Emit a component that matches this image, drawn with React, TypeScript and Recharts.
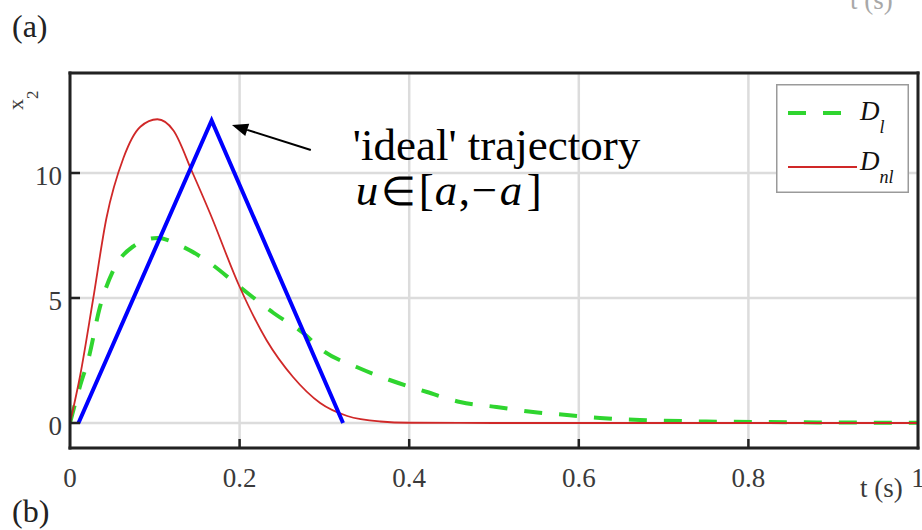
import React from 'react';
import { LineChart, Line, XAxis, YAxis, CartesianGrid, ReferenceLine, Legend } from 'recharts';

const SERIF = 'Liberation Serif';
const INK = '#3a3a3a';
const FRAME = '#222222';

// axis ticks
const xTicks = [0, 0.2, 0.4, 0.6, 0.8, 1];
const yTicks = [0, 5, 10];

// linear design D_l : time (s) and x2
const tLin = [0, 0.012, 0.022, 0.035, 0.051, 0.074, 0.103, 0.133, 0.165, 0.2, 0.24, 0.275, 0.298, 0.338, 0.377, 0.421, 0.46, 0.503, 0.546, 0.586, 0.625, 0.672, 0.75, 0.85, 1.0];
const xLin = [0, 1.5, 2.6, 4.6, 6.1, 7.05, 7.4, 7.05, 6.4, 5.45, 4.4, 3.6, 2.9, 2.24, 1.72, 1.24, 0.84, 0.64, 0.44, 0.32, 0.2, 0.12, 0.06, 0.03, 0.01];

// nonlinear design D_nl : time (s) and x2
const tNonlin = [0, 0.012, 0.027, 0.043, 0.063, 0.083, 0.103, 0.122, 0.144, 0.165, 0.2, 0.232, 0.263, 0.295, 0.327, 0.366, 0.4, 0.5, 1.0];
const xNonlin = [0, 1.9, 4.9, 8.2, 10.6, 11.85, 12.15, 11.7, 10.05, 8.4, 5.45, 3.3, 1.84, 0.8, 0.28, 0.06, 0.01, 0, 0];

// 'ideal' bang-bang trajectory, u in [a, -a]
const tIdeal = [0.01, 0.167, 0.322];
const xIdeal = [0, 12.1, 0];

// annotation arrow (tail -> tip) in data units
const arrowTail = { x: 0.284, y: 10.92 };
const arrowTip = { x: 0.191, y: 11.92 };

const toPoints = (t: number[], v: number[]) => t.map((tt, i) => ({ t: tt, v: v[i] }));
const linData = toPoints(tLin, xLin);
const nonlinData = toPoints(tNonlin, xNonlin);
const idealData = toPoints(tIdeal, xIdeal);

const serifText = { fontFamily: SERIF };

const BottomTick = ({ x, y, payload }: any) => {
  const v = payload.value;
  return (
    <g>
      {v > 0 && v < 1 && <line x1={x} x2={x} y1={y} y2={y - 9} stroke={FRAME} strokeWidth={2.5} />}
      <text x={x} y={y + 39} textAnchor="middle" style={serifText} fontSize={27} fill={INK}>
        {String(v)}
      </text>
    </g>
  );
};

// top frame ticks, plus the axis labels of panel (a) above, cut by the page edge
const TopTick = ({ x, y, payload }: any) => {
  const v = payload.value;
  return (
    <g>
      {v > 0 && v < 1 && <line x1={x} x2={x} y1={y} y2={y + 9} stroke={FRAME} strokeWidth={2.5} />}
      {v < 1 && (
        <text x={x} y={5} textAnchor="middle" style={serifText} fontSize={27} fill="#a8a8a8">
          {String(v)}
        </text>
      )}
    </g>
  );
};

const LeftTick = ({ x, y, payload }: any) => (
  <g>
    <line x1={x} x2={x + 10} y1={y} y2={y} stroke={FRAME} strokeWidth={2.5} />
    <text x={x - 8} y={y + 12} textAnchor="end" style={serifText} fontSize={27} fill={INK}>
      {String(payload.value)}
    </text>
  </g>
);

const RightTick = ({ x, y }: any) => (
  <line x1={x} x2={x - 10} y1={y} y2={y} stroke={FRAME} strokeWidth={2.5} />
);

const ArrowNote = (props: any) => {
  const { x1, y1, x2, y2 } = props;
  const dx = x2 - x1;
  const dy = y2 - y1;
  const len = Math.hypot(dx, dy) || 1;
  const ux = dx / len;
  const uy = dy / len;
  const headLen = 16;
  const headHalf = 6.5;
  const bx = x2 - ux * headLen;
  const by = y2 - uy * headLen;
  const nx = -uy;
  const ny = ux;
  return (
    <g>
      <line x1={x1} y1={y1} x2={bx} y2={by} stroke="#000" strokeWidth={2} />
      <polygon
        points={`${x2},${y2} ${bx + nx * headHalf},${by + ny * headHalf} ${bx - nx * headHalf},${by - ny * headHalf}`}
        fill="#000"
      />
      <text x={x1 + 42} y={y1 + 10} style={serifText} fontSize={45} fill="#000">
        {"'ideal' trajectory"}
      </text>
      <text y={y1 + 55} style={serifText} fontSize={45} fill="#000">
        <tspan x={x1 + 45} fontStyle="italic">u</tspan>
        <tspan x={x1 + 70} fontSize={40}>∈</tspan>
        <tspan x={x1 + 108}>[</tspan>
        <tspan x={x1 + 124} fontStyle="italic">a</tspan>
        <tspan x={x1 + 148}>,</tspan>
        <tspan x={x1 + 161}>−</tspan>
        <tspan x={x1 + 189} fontStyle="italic">a</tspan>
        <tspan x={x1 + 216}>]</tspan>
      </text>
    </g>
  );
};

const legendRows = [
  { lineY: 29, textY: 36 },
  { lineY: 83, textY: 86 },
];

const renderLegend = (props: any) => {
  const items = (props.payload || []).filter((p: any) => p.type !== 'none');
  return (
    <svg width={133} height={109} style={{ display: 'block' }}>
      <rect x={0.75} y={0.75} width={131.5} height={107.5} fill="#fff" stroke="#9a9a9a" strokeWidth={1.5} />
      {items.map((it: any, i: number) => {
        const row = legendRows[i] || legendRows[0];
        const [main, sub] = String(it.value).split('_');
        const p = it.payload || {};
        return (
          <g key={String(it.value)}>
            <line x1={12} x2={81} y1={row.lineY} y2={row.lineY} stroke={it.color} strokeWidth={p.strokeWidth} strokeDasharray={p.strokeDasharray} />
            <text x={84} y={row.textY} style={serifText} fill="#111" fontStyle="italic">
              <tspan fontSize={27}>{main}</tspan>
              <tspan fontSize={18} dy={13}>{sub}</tspan>
            </text>
          </g>
        );
      })}
    </svg>
  );
};

const frameLine = { stroke: FRAME, strokeWidth: 3, strokeLinecap: 'square' as const };

export default function App() {
  return (
    <div style={{ position: 'absolute', left: 0, top: 0, width: 922, height: 530, background: '#fff' }}>
      <LineChart width={922} height={530} margin={{ top: 72, right: 3, bottom: 22, left: 10 }}>
        <CartesianGrid stroke="#dcdcdc" strokeWidth={2.5} />
        <XAxis dataKey="t" type="number" domain={[0, 1]} ticks={xTicks} interval={0} allowDataOverflow height={60} tickSize={0} tickMargin={0} tickLine={false} tick={<BottomTick />} axisLine={frameLine} />
        <XAxis xAxisId="top" orientation="top" dataKey="t" type="number" domain={[0, 1]} ticks={xTicks} interval={0} height={1} tickSize={0} tickMargin={0} tickLine={false} tick={<TopTick />} axisLine={frameLine} />
        <YAxis type="number" domain={[-1, 14]} ticks={yTicks} interval={0} allowDataOverflow width={60} tickSize={0} tickMargin={0} tickLine={false} tick={<LeftTick />} axisLine={frameLine} />
        <YAxis yAxisId="right" orientation="right" type="number" domain={[-1, 14]} ticks={yTicks} interval={0} width={1} tickSize={0} tickMargin={0} tickLine={false} tick={<RightTick />} axisLine={frameLine} />
        <Line data={linData} dataKey="v" name="D_l" type="monotone" stroke="#2fd52f" strokeWidth={4} strokeDasharray="18 17" dot={false} activeDot={false} isAnimationActive={false} />
        <Line data={nonlinData} dataKey="v" name="D_nl" type="monotone" stroke="#d02828" strokeWidth={1.8} dot={false} activeDot={false} isAnimationActive={false} />
        <Line data={idealData} dataKey="v" name="ideal" type="linear" stroke="#0000ff" strokeWidth={4} strokeLinejoin="miter" legendType="none" dot={false} activeDot={false} isAnimationActive={false} />
        <ReferenceLine segment={[arrowTail, arrowTip]} shape={ArrowNote} />
        <Legend layout="vertical" align="center" verticalAlign="middle" content={renderLegend} wrapperStyle={{ left: 776, top: 84, width: 133, height: 109 }} />
        <text x={12} y={37} style={serifText} fontSize={32} fill="#222">(a)</text>
        <text x={12} y={522} style={serifText} fontSize={32} fill="#222">(b)</text>
        <text x={850} y={9} style={serifText} fontSize={27} fill="#a8a8a8">t (s)</text>
        <text x={860} y={497} style={serifText} fontSize={27} fill={INK}>t (s)</text>
        <text x={23} y={110} transform="rotate(-90 23 110)" style={serifText} fontSize={22} fill={INK}>
          x<tspan fontSize={17} dy={15}>2</tspan>
        </text>
      </LineChart>
    </div>
  );
}
